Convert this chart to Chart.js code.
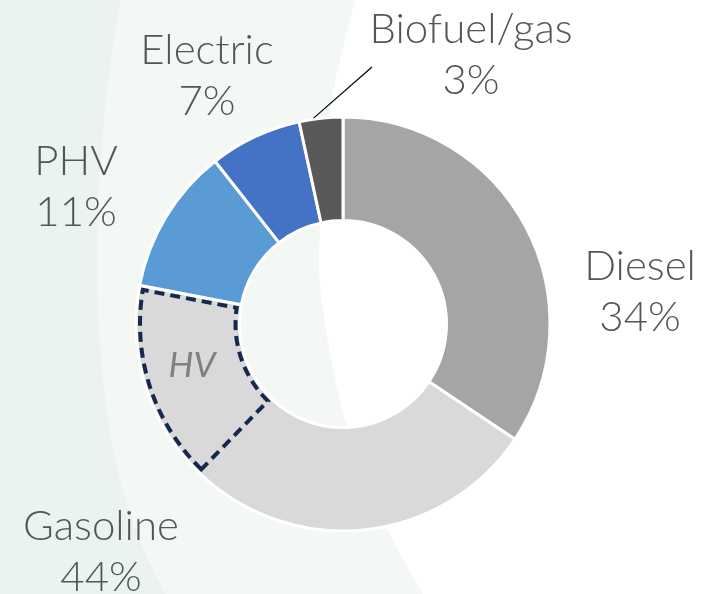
<!DOCTYPE html>
<html>
<head>
<meta charset="utf-8">
<script src="https://cdn.jsdelivr.net/npm/chart.js@4.4.1/dist/chart.umd.min.js"></script>
<style>
  html, body { margin: 0; padding: 0; background: #fff; }
  #wrap { width: 702px; height: 594px; }
</style>
</head>
<body>
<div id="wrap"><canvas id="fuelChart"></canvas></div>
<script>
// segments clockwise from 12 o'clock; HV is the hybrid slice of gasoline
const segments = ['Diesel', 'Gasoline', 'HV', 'PHV', 'Electric', 'Biofuel/gas'];
const shares = [34.4, 27.9, 15.7, 11.4, 7.2, 3.4];
const segColors = ['#a5a5a5', '#d9d9d9', '#d9d9d9', '#5b9bd5', '#4472c4', '#595959'];

// outside labels: name + which segments add up to it
const labelNames = ['Diesel', 'Gasoline', 'PHV', 'Electric', 'Biofuel/gas'];
const labelParts = [[0], [1, 2], [3], [4], [5]];

document.addEventListener("DOMContentLoaded", function () {
    const ctx = document.getElementById('fuelChart').getContext('2d');

    // label layout relative to the donut centre (x offset, first baseline offset)
    const labelPos = [
        { dx: 297, dy: -44 },   // Diesel
        { dx: -242, dy: 216 },  // Gasoline
        { dx: -267, dy: -149 }, // PHV
        { dx: -136, dy: -260 }, // Electric
        { dx: 128, dy: -281 }   // Biofuel/gas
    ];

    function smoothPath(c, pts) {
        c.lineTo(pts[0][0], pts[0][1]);
        for (let i = 0; i < pts.length - 1; i++) {
            const p0 = pts[Math.max(i - 1, 0)], p1 = pts[i], p2 = pts[i + 1], p3 = pts[Math.min(i + 2, pts.length - 1)];
            c.bezierCurveTo(
                p1[0] + (p2[0] - p0[0]) / 6, p1[1] + (p2[1] - p0[1]) / 6,
                p2[0] - (p3[0] - p1[0]) / 6, p2[1] - (p3[1] - p1[1]) / 6,
                p2[0], p2[1]);
        }
    }

    const backdrop = {
        id: 'backdrop',
        beforeDraw(chart) {
            const c = chart.ctx;
            const h = chart.height;
            c.save();
            c.fillStyle = '#ffffff';
            c.fillRect(0, 0, chart.width, h);
            c.beginPath();
            c.moveTo(0, 0);
            smoothPath(c, [[355, 0], [332, 100], [320, 227], [323, 310], [347, 427], [388, 530], [423, 594]]);
            c.lineTo(0, h);
            c.closePath();
            c.fillStyle = '#f3f8f5';
            c.fill();
            c.beginPath();
            c.moveTo(0, 0);
            smoothPath(c, [[120, 0], [104, 120], [97, 280], [108, 420], [132, 520], [165, 594]]);
            c.lineTo(0, h);
            c.closePath();
            c.fillStyle = '#eaf3ee';
            c.fill();
            c.restore();
        }
    };

    const overlay = {
        id: 'overlay',
        afterDatasetsDraw(chart) {
            const c = chart.ctx;
            const arcs = chart.getDatasetMeta(0).data;
            const hv = arcs[2].getProps(['x', 'y', 'startAngle', 'endAngle', 'innerRadius', 'outerRadius']);
            const cx = hv.x, cy = hv.y;
            c.save();
            // hide the white seam between gasoline and HV
            c.strokeStyle = segColors[2];
            c.lineWidth = 4;
            c.beginPath();
            c.moveTo(cx + Math.cos(hv.startAngle) * (hv.innerRadius + 2), cy + Math.sin(hv.startAngle) * (hv.innerRadius + 2));
            c.lineTo(cx + Math.cos(hv.startAngle) * (hv.outerRadius - 2), cy + Math.sin(hv.startAngle) * (hv.outerRadius - 2));
            c.stroke();

            // dashed outline of the HV slice
            const ro = hv.outerRadius - 4, ri = hv.innerRadius + 4;
            const eo = hv.endAngle - 4 / ro, ei = hv.endAngle - 4 / ri;
            c.beginPath();
            c.arc(cx, cy, ro, hv.startAngle, eo);
            c.lineTo(cx + Math.cos(ei) * ri, cy + Math.sin(ei) * ri);
            c.arc(cx, cy, ri, ei, hv.startAngle, true);
            c.closePath();
            c.setLineDash([10, 6]);
            c.lineWidth = 4;
            c.strokeStyle = '#142a4c';
            c.stroke();
            c.setLineDash([]);

            // HV tag inside the slice
            c.fillStyle = '#808080';
            c.font = 'italic 35px Lato';
            c.textAlign = 'center';
            c.textBaseline = 'alphabetic';
            c.fillText('HV', cx - 151, cy + 53);

            // leader line to the biofuel slice
            const bio = arcs[5].getProps(['startAngle', 'endAngle', 'outerRadius']);
            const mid = (bio.startAngle + bio.endAngle) / 2 - 0.035;
            c.strokeStyle = '#000';
            c.lineWidth = 1.2;
            c.beginPath();
            c.moveTo(cx + Math.cos(mid) * (bio.outerRadius + 1), cy + Math.sin(mid) * (bio.outerRadius + 1));
            c.lineTo(cx + 29, cy - 257);
            c.stroke();

            // category labels
            c.fillStyle = '#555555';
            c.font = '300 42px Lato';
            labelNames.forEach((name, i) => {
                const pct = Math.round(labelParts[i].reduce((s, k) => s + shares[k], 0)) + '%';
                const p = labelPos[i];
                c.fillText(name, cx + p.dx, cy + p.dy);
                c.fillText(pct, cx + p.dx, cy + p.dy + 51);
            });
            c.restore();
        }
    };

    new Chart(ctx, {
        type: 'doughnut',
        data: {
            labels: segments,
            datasets: [{
                data: shares,
                backgroundColor: segColors,
                borderColor: '#ffffff',
                borderWidth: 3
            }]
        },
        options: {
            responsive: true,
            maintainAspectRatio: false,
            animation: false,
            radius: 207,
            cutout: '50%',
            layout: { padding: { left: 0, right: 16, top: 54, bottom: 0 } },
            plugins: {
                legend: { display: false },
                tooltip: { enabled: false }
            }
        },
        plugins: [backdrop, overlay]
    });
});
</script>
</body>
</html>
